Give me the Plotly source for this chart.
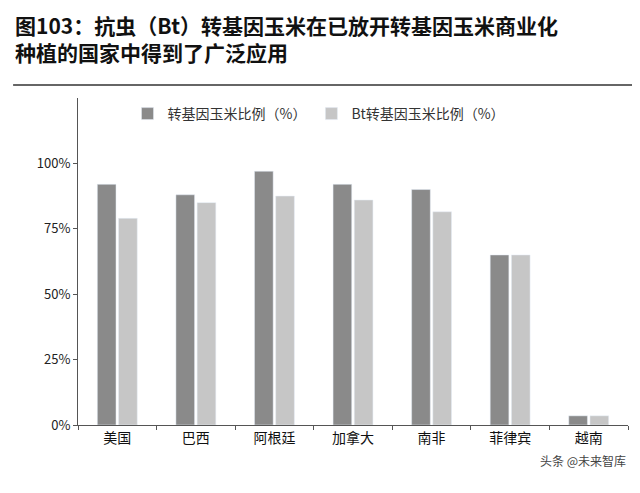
import plotly.graph_objs as go

countries = ['美国', '巴西', '阿根廷', '加拿大', '南非', '菲律宾', '越南']
gm_share = [92, 88, 97, 92, 90, 65, 3.5]
bt_share = [79, 85, 87.5, 86, 81.5, 65, 3.5]
tick_vals = [0, 25, 50, 75, 100]
tick_text = ['0%', '25%', '50%', '75%', '100%']

font = 'Noto Sans CJK SC'
fig = go.Figure()
fig.add_trace(go.Bar(x=countries, y=gm_share, name='转基因玉米比例（%）',
                     marker_color='#8a8a8a'))
fig.add_trace(go.Bar(x=countries, y=bt_share, name='Bt转基因玉米比例（%）',
                     marker_color='#c6c6c6'))

fig.update_layout(
    width=640, height=493,
    paper_bgcolor='white', plot_bgcolor='white',
    font=dict(family=font, size=13, color='#222'),
    margin=dict(l=70, r=20, t=90, b=76),
    bargap=0.46, bargroupgap=0.12,
    legend=dict(orientation='h', x=0.09, y=1.0, xanchor='left', yanchor='top',
                font=dict(size=14, color='#333'), bgcolor='rgba(0,0,0,0)'),
    showlegend=True,
)
fig.update_yaxes(range=[0, 125], tickvals=tick_vals, ticktext=tick_text,
                 showgrid=False, showline=True, linecolor='#555', ticks='outside',
                 ticklen=4, tickcolor='#555', tickfont=dict(size=13))
fig.update_xaxes(showline=True, linecolor='#555', ticks='outside', tickcolor='#555',
                 tickson='boundaries', ticklen=4, tickfont=dict(size=14, color='#111'))

fig.add_annotation(xref='paper', yref='paper', x=-0.118, y=1.275, xanchor='left',
                   yanchor='top', showarrow=False, align='left',
                   text='<b>图103：抗虫（Bt）转基因玉米在已放开转基因玉米商业化<br>种植的国家中得到了广泛应用</b>',
                   font=dict(size=21, color='#111', family=font))
fig.add_shape(type='line', xref='paper', yref='paper', x0=-0.118, x1=1.02,
              y0=1.04, y1=1.04, line=dict(color='#333', width=1.5))
fig.add_annotation(xref='paper', yref='paper', x=1.0, y=-0.14, xanchor='right',
                   showarrow=False, text='头条 @未来智库',
                   font=dict(size=12, color='#444', family=font))

fig.write_html('out.html')
